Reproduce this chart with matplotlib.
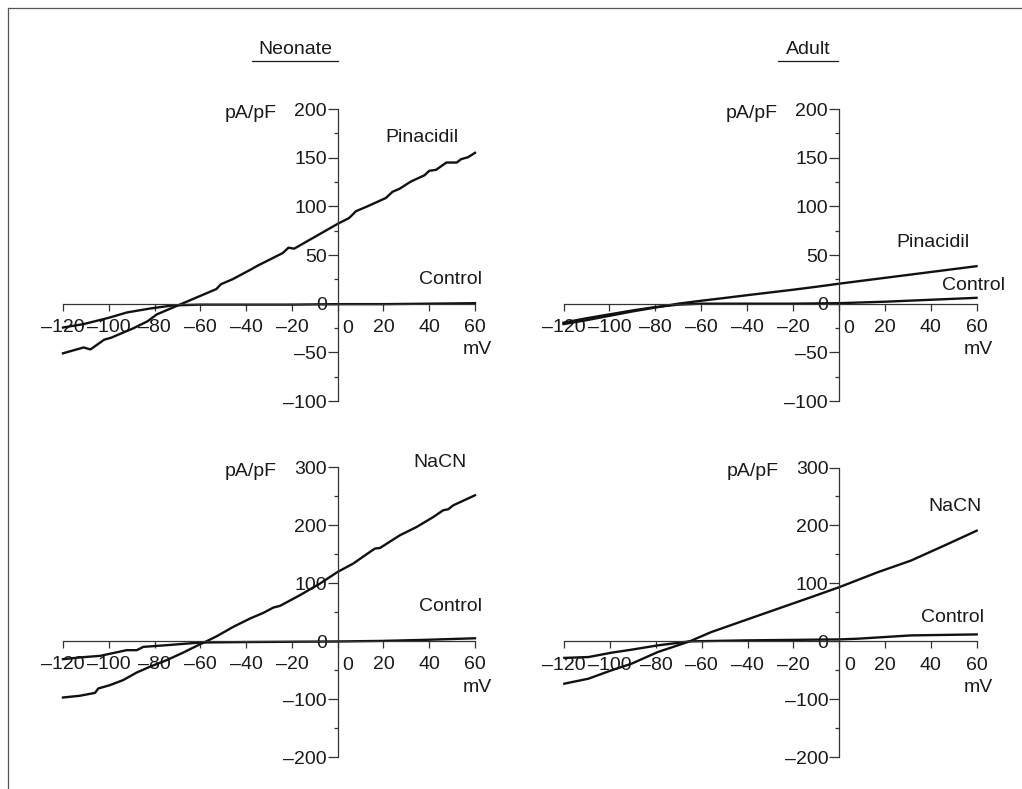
import matplotlib
matplotlib.use("Agg")
import matplotlib.pyplot as plt
from matplotlib.lines import Line2D

plt.rcParams['font.family'] = ['Liberation Sans', 'DejaVu Sans']

# ---- data (mV -> pA/pF) ----
neo_pin_mv = [-120, -114, -111, -108, -102, -99, -89, -83, -79, -69, -60, -53, -51, -46, -38, -35,
              -24, -21.5, -19, 0, 5, 8, 13, 21, 24, 27, 32, 38, 40, 43, 47.5, 52, 54, 57, 60]
neo_pin_pa = [-51, -47, -45, -47, -37, -35, -25, -18, -11, -1, 8, 15, 20, 25, 35, 39,
              52, 57.5, 56.5, 82, 88, 95, 100, 108.5, 115, 118, 125.5, 132, 136.5, 137.5, 145, 145, 148.5, 150.5, 155]
neo_ctl1_mv = [-120, -111, -100, -92, -82, -72, -60, -40, -20, 0, 20, 40, 60]
neo_ctl1_pa = [-24.5, -21, -14.5, -9, -5, -1.8, -1, -1, -1, -0.5, -0.5, 0, 0.5]

ad_pin_mv = [-120, -110, -100, -90, -80, -70, -60, -50, -40, -30, -20, -10, 0, 10, 20, 30, 40, 50, 60]
ad_pin_pa = [-21, -17, -12.5, -8, -4, 0, 3, 5.8, 8.7, 11.5, 14.3, 17.3, 20.5, 23.5, 26.5, 29.5, 32.5, 35.5, 38.5]
ad_ctl1_mv = [-120, -110, -100, -90, -80, -70, -60, -40, -20, 0, 20, 40, 60]
ad_ctl1_pa = [-19.5, -15, -11, -7, -3.5, -1, 0, 0, 0, 0.5, 2, 4, 6]

neo_cn_mv = [-120, -112.6, -106, -104.6, -99.5, -93.7, -87.8, -82, -74.7, -67.4, -60.1, -57.2, -52.8,
             -45.6, -38.3, -32.5, -28.1, -25.2, -16.5, -7.7, 0, 6.8, 14.1, 16.3, 18.5, 27.2, 34.5,
             41.8, 46.1, 48.3, 50.5, 60]
neo_cn_pa = [-97, -94, -89, -81.5, -75.7, -67, -54, -44, -32.7, -19.5, -5.2, 0, 8.6,
             24.7, 39, 48.7, 57.9, 60.8, 79.2, 99.3, 119.3, 133.7, 153.7, 159.5, 160.6, 182.4, 196.7,
             213.9, 225.5, 227.2, 234, 251.3]
neo_ctl2_mv = [-120, -112.6, -103.8, -92.2, -87.8, -84.9, -74.7, -60, -40, -20, 0, 20, 40, 60]
neo_ctl2_pa = [-31, -28, -25.3, -15.5, -15.5, -9.8, -6.9, -2.3, -1.5, -1, -0.5, 0.5, 2.5, 5]

ad_cn_mv = [-120, -109.4, -99.4, -90.6, -79.2, -65.3, -55.9, -41.4, -26.8, -12.3, 0, 16.8, 31.3, 45.8, 60]
ad_cn_pa = [-73, -64.3, -49.9, -38.4, -18.4, 0, 16, 36.1, 56.3, 76.3, 93.5, 119.3, 139.4, 165.2, 191]
ad_ctl2_mv = [-120, -109.4, -99.4, -90.6, -79.2, -65.3, -41.4, 0, 8, 31.3, 60]
ad_ctl2_pa = [-28.5, -27, -19.5, -14.3, -6.9, 0, 1.7, 3.4, 4.6, 10.3, 12]

x_ticks = [-120, -100, -80, -60, -40, -20, 0, 20, 40, 60]
y_ticks_top = [-100, -50, 0, 50, 100, 150, 200]
y_ticks_bottom = [-200, -100, 0, 100, 200, 300]

W, H = 1022, 789
FS = 14
INK = '#1a1a1a'
AXC = '#333333'


def dash(v):
    return str(v).replace('-', '\u2013')


def panel(fig, box, yticks, ystep):
    x0, x1, yt, yb = box
    ax = fig.add_axes([x0 / W, 1 - yb / H, (x1 - x0) / W, (yb - yt) / H])
    ax.patch.set_visible(False)
    for s in ['top', 'right']:
        ax.spines[s].set_visible(False)
    for s in ['left', 'bottom']:
        ax.spines[s].set_position(('data', 0))
        ax.spines[s].set_color(AXC)
        ax.spines[s].set_linewidth(0.9)
    ax.set_xticks(x_ticks)
    ax.set_xticklabels([dash(v) if v != 0 else '' for v in x_ticks])
    ax.set_yticks(yticks)
    ax.set_yticklabels([dash(v) for v in yticks])
    minors = [v + ystep for v in yticks[:-1]]
    ax.set_yticks(minors, minor=True)
    ax.tick_params(axis='x', direction='out', length=5, width=0.9, pad=6,
                   labelsize=FS, colors=AXC, labelcolor=INK)
    ax.tick_params(axis='y', which='major', direction='out', length=7.5, width=0.9, pad=0.3,
                   labelsize=FS, colors=AXC, labelcolor=INK)
    ax.tick_params(axis='y', which='minor', direction='out', length=3.2, width=0.9, colors=AXC)
    # the x "0" sits to the right of the y axis
    ax.annotate('0', xy=(0, 0), xytext=(10, -16), textcoords='offset pixels',
                ha='center', va='top', fontsize=FS, color=INK)
    ax.annotate('mV', xy=(60, 0), xytext=(2, -46), textcoords='offset pixels',
                ha='center', va='center', fontsize=FS, color=INK)
    ax.annotate('pA/pF', xy=(0, yticks[-1]), xytext=(-61, -4), textcoords='offset pixels',
                ha='right', va='center', fontsize=FS, color=INK)
    return ax


def trace(ax, mv, pa):
    ax.plot(mv, pa, color='#111111', lw=1.7, clip_on=False, solid_joinstyle='round')


fig = plt.figure(figsize=(W / 100, H / 100), dpi=100)

# frame lines (top and left)
fig.add_artist(Line2D([7.5 / W, 7.5 / W], [0, 1 - 8 / H], transform=fig.transFigure, color='#555555', lw=0.9))
fig.add_artist(Line2D([7.5 / W, 1], [1 - 8 / H, 1 - 8 / H], transform=fig.transFigure, color='#555555', lw=0.9))

# Neonate, pinacidil
ax1 = panel(fig, (63, 475, 109, 401), y_ticks_top, 25)
trace(ax1, neo_ctl1_mv, neo_ctl1_pa)
trace(ax1, neo_pin_mv, neo_pin_pa)
ax1.set_xlim(-120, 60)
ax1.set_ylim(-100, 200)
ax1.text(37, 171, 'Pinacidil', ha='center', va='center', fontsize=FS, color=INK)
ax1.text(49.4, 25, 'Control', ha='center', va='center', fontsize=FS, color=INK)

# Adult, pinacidil
ax2 = panel(fig, (563.5, 976.5, 109, 401), y_ticks_top, 25)
trace(ax2, ad_ctl1_mv, ad_ctl1_pa)
trace(ax2, ad_pin_mv, ad_pin_pa)
ax2.set_xlim(-120, 60)
ax2.set_ylim(-100, 200)
ax2.text(40.9, 62.7, 'Pinacidil', ha='center', va='center', fontsize=FS, color=INK)
ax2.text(58.7, 18.7, 'Control', ha='center', va='center', fontsize=FS, color=INK)

# Neonate, NaCN
ax3 = panel(fig, (63, 475, 467, 757.3), y_ticks_bottom, 50)
trace(ax3, neo_ctl2_mv, neo_ctl2_pa)
trace(ax3, neo_cn_mv, neo_cn_pa)
ax3.set_xlim(-120, 60)
ax3.set_ylim(-200, 300)
ax3.text(44.7, 307, 'NaCN', ha='center', va='center', fontsize=FS, color=INK)
ax3.text(49.4, 59, 'Control', ha='center', va='center', fontsize=FS, color=INK)

# Adult, NaCN
ax4 = panel(fig, (564.3, 976.7, 467.5, 757.3), y_ticks_bottom, 50)
trace(ax4, ad_ctl2_mv, ad_ctl2_pa)
trace(ax4, ad_cn_mv, ad_cn_pa)
ax4.set_xlim(-120, 60)
ax4.set_ylim(-200, 300)
ax4.text(50.4, 232, 'NaCN', ha='center', va='center', fontsize=FS, color=INK)
ax4.text(49.4, 41, 'Control', ha='center', va='center', fontsize=FS, color=INK)

# underlined column titles
fig.text(295 / W, 1 - 49 / H, 'Neonate', ha='center', va='center', fontsize=FS, color=INK)
fig.add_artist(Line2D([252 / W, 338 / W], [1 - 61 / H] * 2, transform=fig.transFigure, color=INK, lw=0.9))
fig.text(808 / W, 1 - 49 / H, 'Adult', ha='center', va='center', fontsize=FS, color=INK)
fig.add_artist(Line2D([778 / W, 838 / W], [1 - 61 / H] * 2, transform=fig.transFigure, color=INK, lw=0.9))

fig.savefig('out.png', dpi=100)
